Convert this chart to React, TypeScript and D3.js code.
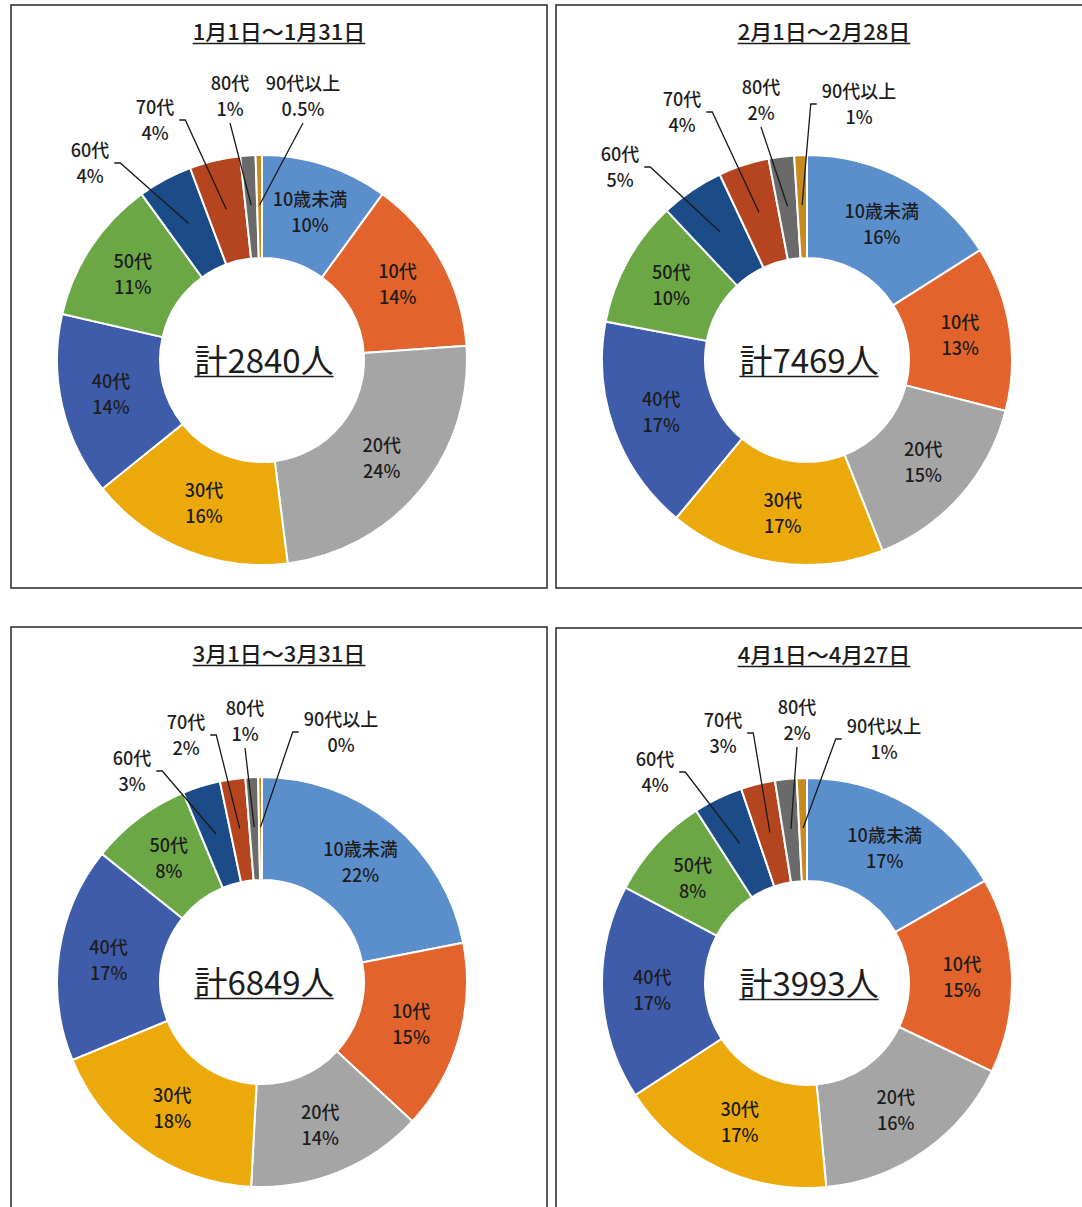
import React, { useEffect, useRef } from 'react';
import * as d3 from 'd3';

// ---------- data ----------
const ageGroups = ['10歳未満', '10代', '20代', '30代', '40代', '50代', '60代', '70代', '80代', '90代以上'];
const periodTitles = ['1月1日～1月31日', '2月1日～2月28日', '3月1日～3月31日', '4月1日～4月27日'];
const totals = [2840, 7469, 6849, 3993];

const sharesJan = [10.0, 13.9, 24.1, 16.2, 14.4, 11.4, 4.3, 4.0, 1.2, 0.5];
const sharesFeb = [16, 13, 15, 17, 17, 10, 5, 4, 2, 1];
const sharesMar = [22, 15, 14, 18, 17, 8, 3, 2, 1, 0.3];
const sharesApr = [16.7, 15.4, 16.4, 17.3, 16.9, 8.2, 3.9, 2.7, 1.7, 0.8];

const labelsJan = ['10%', '14%', '24%', '16%', '14%', '11%', '4%', '4%', '1%', '0.5%'];
const labelsFeb = ['16%', '13%', '15%', '17%', '17%', '10%', '5%', '4%', '2%', '1%'];
const labelsMar = ['22%', '15%', '14%', '18%', '17%', '8%', '3%', '2%', '1%', '0%'];
const labelsApr = ['17%', '15%', '16%', '17%', '17%', '8%', '4%', '3%', '2%', '1%'];

const sharesByPeriod = [sharesJan, sharesFeb, sharesMar, sharesApr];
const labelsByPeriod = [labelsJan, labelsFeb, labelsMar, labelsApr];

// ---------- styles / layout ----------
const colors = ['#5B8FCC', '#E2632B', '#A5A5A5', '#EBA90C', '#3E5CAA', '#6BA845', '#1C4C88', '#B5451F', '#6A6A6A', '#C8891F'];
const panelOrigins = [[11, 5], [556, 5], [11, 627], [556, 628]];
const PANEL_W = 536;
const PANEL_H = 583;
const CENTER_DX = 251;
const CENTER_DY = 355;
const R_IN = 102;
const R_OUT = 205;
const R_LABEL = 155;
const FIRST_OUTSIDE = 6; // 60代 and older labelled outside
// outside label block centres, relative to the donut centre
const outsideLabelOffsets = [
  [[-172, -197], [-107, -240], [-32, -264], [41, -264]],
  [[-187, -193], [-125, -248], [-46, -260], [52, -256]],
  [[-130, -211], [-76, -247], [-17, -261], [79, -250]],
  [[-152, -211], [-84, -250], [-10, -263], [77, -244]],
];
const FONT = '"Noto Sans CJK JP", "Noto Sans", sans-serif';
const TEXT = '#1d1d1d';
const LABEL_FS = 18;

export default function App() {
  const ref = useRef<SVGSVGElement | null>(null);

  useEffect(() => {
    const svg = d3.select(ref.current);
    svg.selectAll('*').remove();
    svg.append('rect').attr('width', 1082).attr('height', 1207).attr('fill', '#ffffff');

    const pie = d3.pie<number>().sort(null).value((d) => d);
    const arc = d3.arc<d3.PieArcDatum<number>>().innerRadius(R_IN).outerRadius(R_OUT);
    const labelArc = d3.arc<d3.PieArcDatum<number>>().innerRadius(R_LABEL).outerRadius(R_LABEL);

    periodTitles.forEach((title, p) => {
      const [px, py] = panelOrigins[p];
      const g = svg.append('g').attr('transform', `translate(${px},${py})`);

      g.append('rect')
        .attr('x', 0).attr('y', 0).attr('width', PANEL_W).attr('height', PANEL_H)
        .attr('fill', 'none').attr('stroke', '#333').attr('stroke-width', 1.6);

      // title
      const t = g.append('text')
        .attr('x', PANEL_W / 2).attr('y', 35)
        .attr('text-anchor', 'middle')
        .attr('font-family', FONT).attr('font-size', 22).attr('font-weight', 500)
        .attr('fill', TEXT).text(title);
      const tb = (t.node() as SVGTextElement).getBBox();
      g.append('line')
        .attr('x1', tb.x).attr('x2', tb.x + tb.width).attr('y1', 38.5).attr('y2', 38.5)
        .attr('stroke', TEXT).attr('stroke-width', 1.6);

      const c = g.append('g').attr('transform', `translate(${CENTER_DX},${CENTER_DY})`);
      const arcs = pie(sharesByPeriod[p]);

      c.selectAll('path.slice')
        .data(arcs)
        .join('path')
        .attr('class', 'slice')
        .attr('d', arc as any)
        .attr('fill', (_d, i) => colors[i])
        .attr('stroke', '#ffffff')
        .attr('stroke-width', 2);

      const labels = labelsByPeriod[p];

      const drawBlock = (x: number, y: number, l1: string, l2: string) => {
        const tx = c.append('text')
          .attr('text-anchor', 'middle')
          .attr('font-family', FONT).attr('font-size', LABEL_FS).attr('font-weight', 500)
          .attr('fill', TEXT);
        tx.append('tspan').attr('x', x).attr('y', y - 6.5).text(l1);
        tx.append('tspan').attr('x', x).attr('y', y + 19.5).text(l2);
        return (tx.node() as SVGTextElement).getBBox();
      };

      arcs.forEach((a, i) => {
        if (i < FIRST_OUTSIDE) {
          const [x, y] = labelArc.centroid(a);
          drawBlock(x, y, ageGroups[i], labels[i]);
        } else {
          const [ox, oy] = outsideLabelOffsets[p][i - FIRST_OUTSIDE];
          const bb = drawBlock(ox, oy, ageGroups[i], labels[i]);
          const [tx, ty] = labelArc.centroid(a);
          const x0 = bb.x;
          const x1 = bb.x + bb.width;
          let pts: [number, number][];
          if (tx >= x0 - 10 && tx <= x1 + 10) {
            pts = [[ox, oy + 27], [tx, ty]];
          } else if (tx > x1) {
            pts = [[x1 + 5, oy], [x1 + 11, oy], [tx, ty]];
          } else {
            pts = [[x0 - 5, oy], [x0 - 11, oy], [tx, ty]];
          }
          c.append('path')
            .attr('d', d3.line()(pts) as string)
            .attr('fill', 'none')
            .attr('stroke', '#1a1a1a')
            .attr('stroke-width', 1.3);
        }
      });

      // centre total
      const ct = c.append('text')
        .attr('x', 2).attr('y', 13)
        .attr('text-anchor', 'middle')
        .attr('font-family', FONT).attr('font-size', 33).attr('font-weight', 400)
        .attr('fill', TEXT).text(`計${totals[p]}人`);
      const cb = (ct.node() as SVGTextElement).getBBox();
      c.append('line')
        .attr('x1', cb.x).attr('x2', cb.x + cb.width).attr('y1', 16.5).attr('y2', 16.5)
        .attr('stroke', TEXT).attr('stroke-width', 1.5);
    });
  }, []);

  return (
    <svg
      ref={ref}
      width={1082}
      height={1207}
      style={{ position: 'absolute', left: 0, top: 0, display: 'block' }}
    />
  );
}
